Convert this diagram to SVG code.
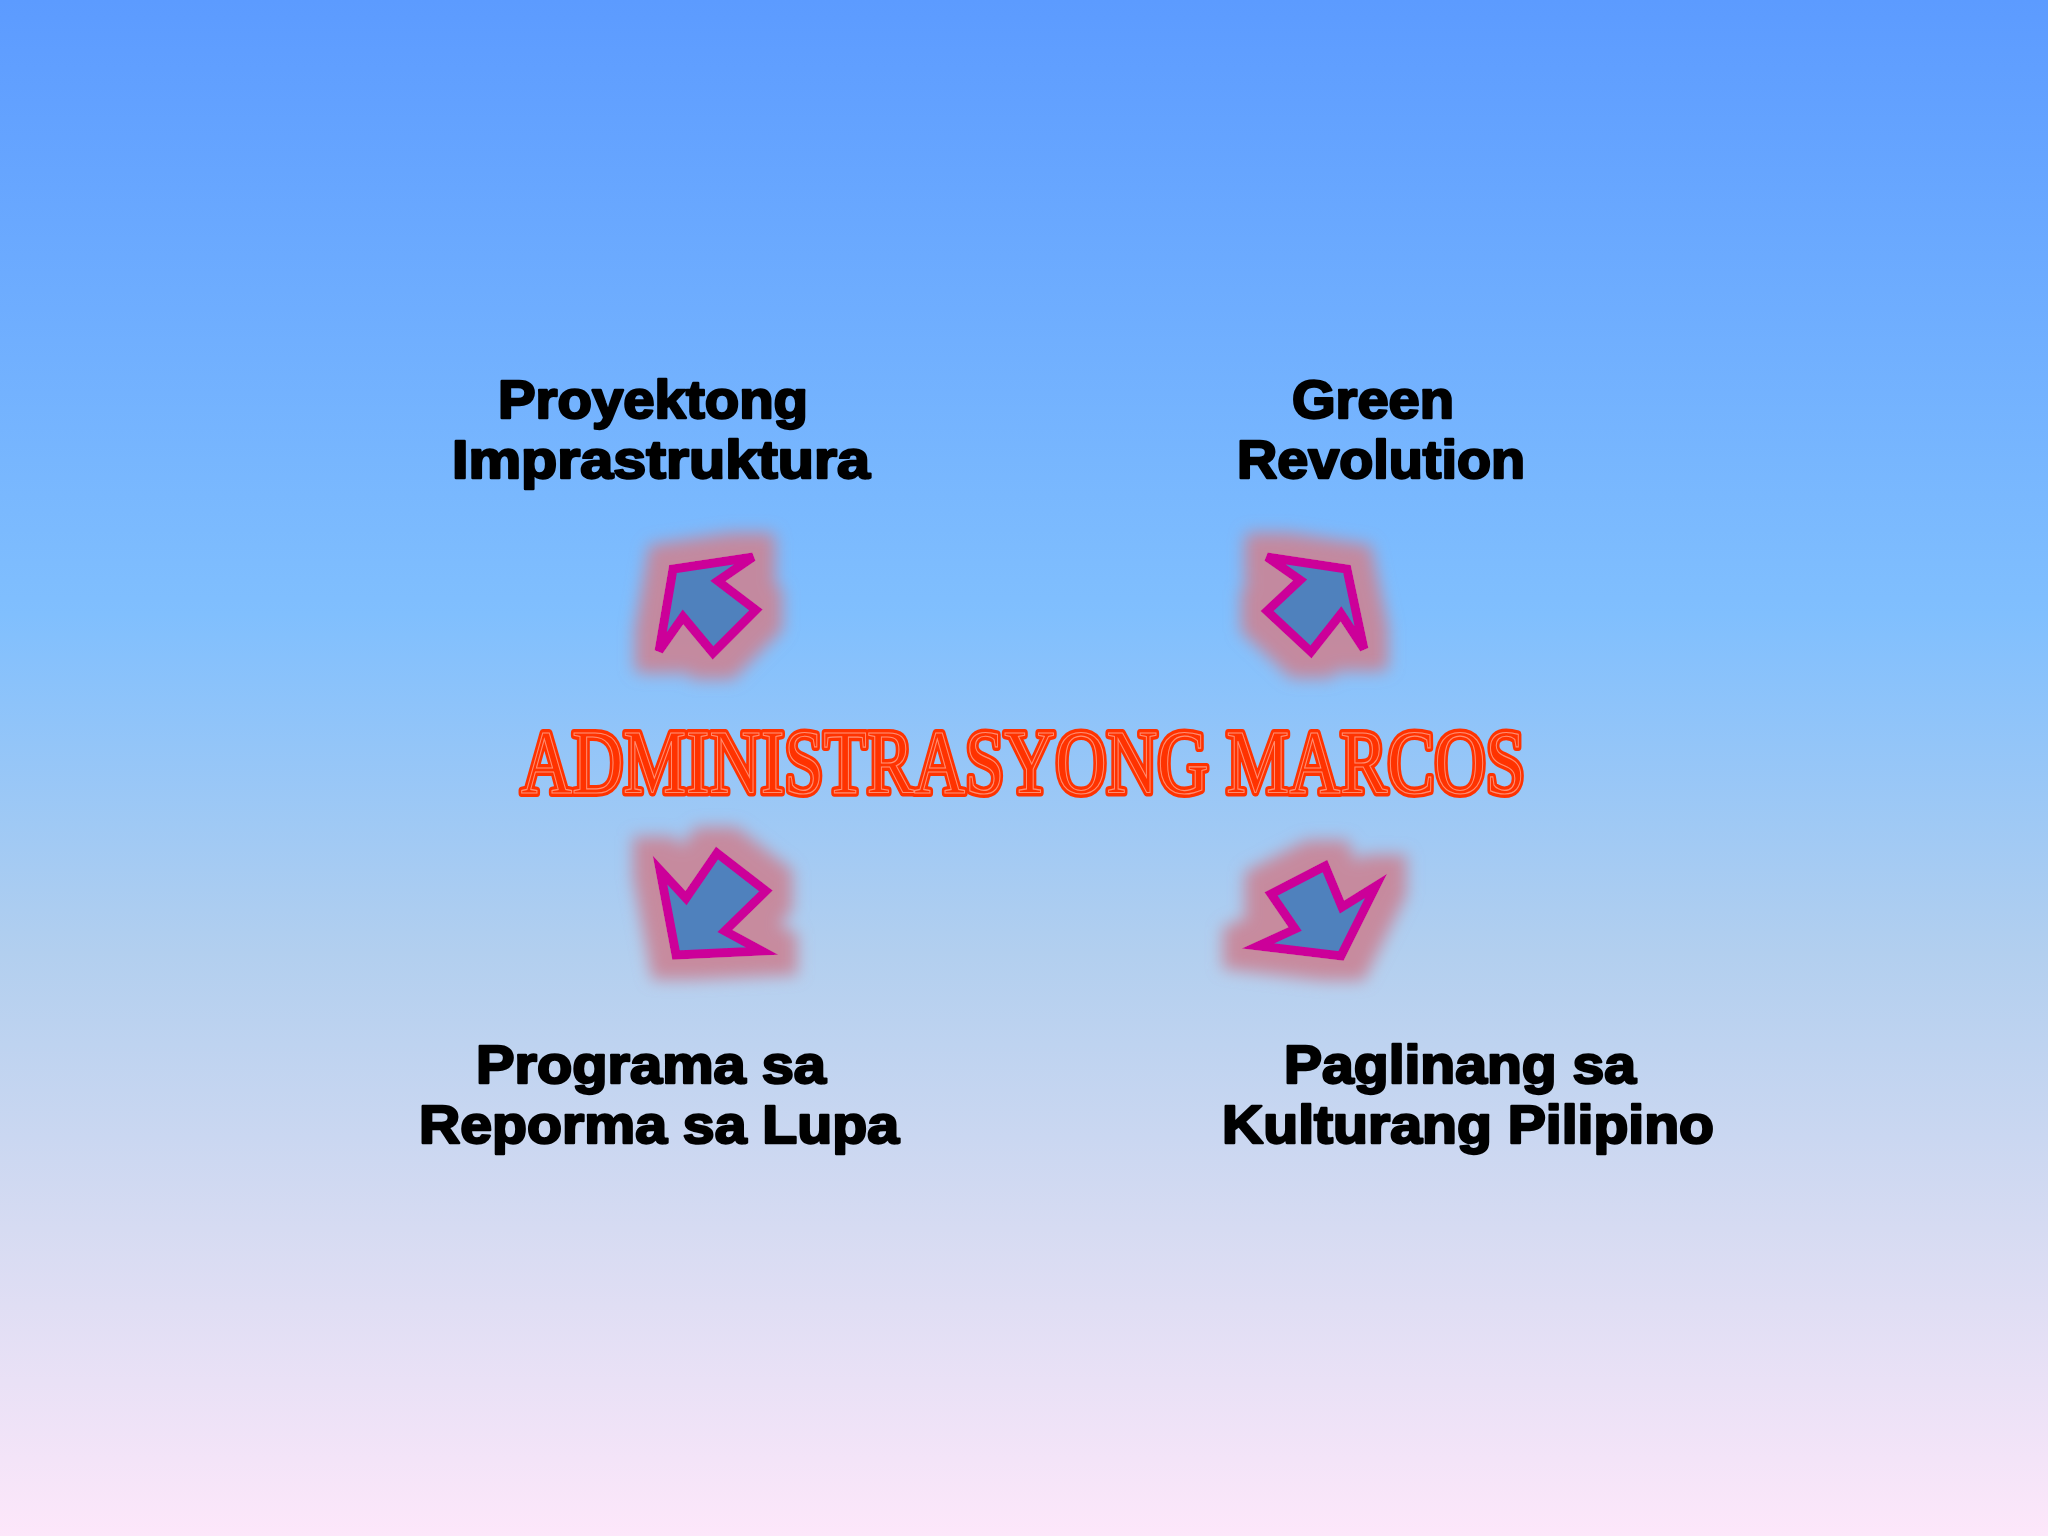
<svg xmlns="http://www.w3.org/2000/svg" width="2048" height="1536" viewBox="0 0 2048 1536">
  <defs>
    <linearGradient id="bg" x1="0" y1="0" x2="0" y2="1">
      <stop offset="0" stop-color="#5C9BFF"/>
      <stop offset="0.40" stop-color="#80BFFE"/>
      <stop offset="0.62" stop-color="#B2CFEF"/>
      <stop offset="0.80" stop-color="#D6DBF2"/>
      <stop offset="1" stop-color="#FDE7FA"/>
    </linearGradient>
    <filter id="glow" x="-60%" y="-60%" width="220%" height="220%">
      <feMorphology in="SourceAlpha" operator="dilate" radius="20" result="d"/>
      <feFlood flood-color="#C98597" flood-opacity="0.92"/>
      <feComposite in2="d" operator="in" result="c"/>
      <feGaussianBlur in="c" stdDeviation="8" result="b"/>
      <feMerge>
        <feMergeNode in="b"/>
        <feMergeNode in="SourceGraphic"/>
      </feMerge>
    </filter>
    <style>
      .arrow { fill: #4F81BD; stroke: #CC0099; stroke-width: 9; stroke-linejoin: miter; }
      .label { font-family: "Liberation Sans", Arial, sans-serif; font-weight: bold; font-size: 53px; fill: #000; stroke: #000; stroke-width: 2.4; stroke-linejoin: round; text-anchor: middle; }
      .title { font-family: "Liberation Serif", "Times New Roman", serif; font-weight: normal; font-size: 90px; fill: #FF3300; text-anchor: middle; }
      .title-base { stroke: #FF3300; stroke-width: 8; stroke-linejoin: round; stroke-linecap: round; }
      .title-hi { fill: none; stroke: #FFFFFF; stroke-opacity: 0.45; stroke-width: 1.2; }
    </style>
  </defs>

  <rect x="0" y="0" width="2048" height="1536" fill="url(#bg)"/>

  <g id="connectors">
    <g id="arrow-top-left" filter="url(#glow)">
      <polygon class="arrow" points="753,557 673,569 659,651 683,617 713,653 756,610 718,581"/>
    </g>
    <g id="arrow-top-right" filter="url(#glow)">
      <polygon class="arrow" points="1267,557 1347,569 1364,649 1341,614 1311,652 1267,611 1300,580"/>
    </g>
    <g id="arrow-bottom-left" filter="url(#glow)">
      <polygon class="arrow" points="717,853 766,891 725,931 762,951 676,955 660,870 686,898"/>
    </g>
    <g id="arrow-bottom-right" filter="url(#glow)">
      <polygon class="arrow" points="1325,866 1342,907 1376,886 1341,956 1258,946 1295,929 1271,894"/>
    </g>
  </g>

  <g id="title">
    <text class="title title-base" x="1023" y="793" textLength="1004" lengthAdjust="spacingAndGlyphs">ADMINISTRASYONG MARCOS</text>
    <text class="title title-hi" x="1023" y="793" textLength="1004" lengthAdjust="spacingAndGlyphs">ADMINISTRASYONG MARCOS</text>
  </g>

  <g id="node-proyektong">
    <text class="label" x="653" y="418" textLength="310" lengthAdjust="spacingAndGlyphs">Proyektong</text>
    <text class="label" x="661" y="478" textLength="418" lengthAdjust="spacingAndGlyphs">Imprastruktura</text>
  </g>

  <g id="node-green">
    <text class="label" x="1373" y="418" textLength="162" lengthAdjust="spacingAndGlyphs">Green</text>
    <text class="label" x="1381" y="478" textLength="288" lengthAdjust="spacingAndGlyphs">Revolution</text>
  </g>

  <g id="node-programa">
    <text class="label" x="651" y="1083" textLength="350" lengthAdjust="spacingAndGlyphs">Programa sa</text>
    <text class="label" x="659" y="1143" textLength="480" lengthAdjust="spacingAndGlyphs">Reporma sa Lupa</text>
  </g>

  <g id="node-paglinang">
    <text class="label" x="1460" y="1083" textLength="352" lengthAdjust="spacingAndGlyphs">Paglinang sa</text>
    <text class="label" x="1468" y="1143" textLength="492" lengthAdjust="spacingAndGlyphs">Kulturang Pilipino</text>
  </g>
</svg>
